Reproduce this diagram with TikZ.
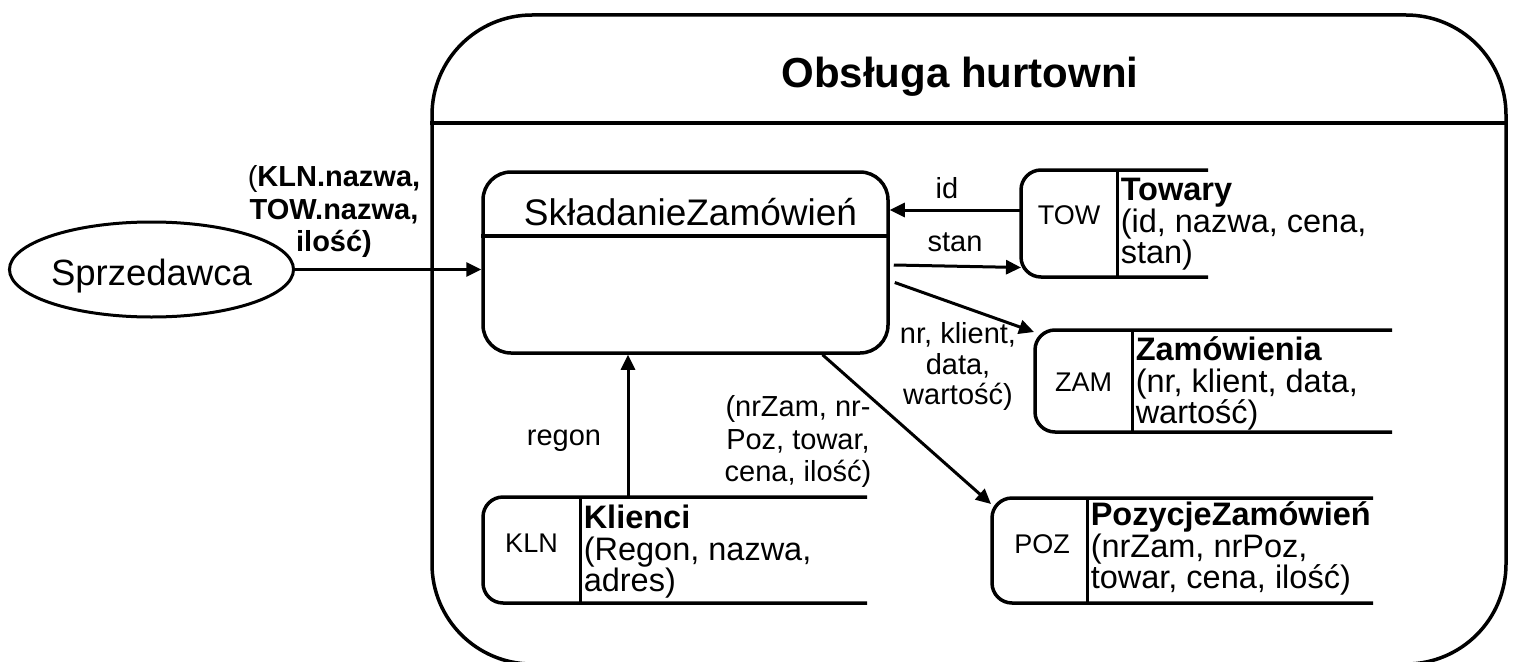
\documentclass[tikz,border=0pt]{standalone}
\usepackage{fontspec}
\setmainfont{Liberation Sans}
\usetikzlibrary{shapes.geometric,arrows.meta,calc}
\newcommand{\mystrut}{\rule{0pt}{0.8em}}
\begin{document}
\begin{tikzpicture}[x=1pt,y=-1pt, line width=3.5pt,
  lbl/.style={font=\fontsize{29}{32.5}\selectfont, inner sep=0pt, align=center, anchor=north},
  keytxt/.style={font=\fontsize{27}{30}\selectfont, inner sep=0pt, anchor=base},
  tbl/.style={font=\fontsize{32.5}{31.5}\selectfont, inner sep=0pt, align=left, anchor=north west},
  keybox/.style={inner sep=0pt, outer sep=0pt},
  flow/.style={-{Triangle[length=15pt,width=14pt]}, line width=3pt},
]
\useasboundingbox (0,0) rectangle (1514,661);

% outer frame
\node[draw, rounded corners=100pt, minimum width=1074pt, minimum height=649pt, inner sep=0pt] (frame) at (969,339.5) {};
\draw (frame.west |- 0,123) -- (frame.east |- 0,123);
\node[font=\bfseries\fontsize{42}{46}\selectfont, anchor=base] (title) at (960,87) {Obsługa hurtowni};

% actor
\node[draw, line width=3pt, ellipse, minimum width=283pt, minimum height=95pt, inner sep=0pt,
      font=\fontsize{36.5}{40}\selectfont, text height=31pt, text depth=0pt] (sprz) at (151.5,269.5) {Sprzedawca};

% process
\node[draw, rounded corners=28pt, minimum width=405pt, minimum height=181pt, inner sep=0pt] (sz) at (685.5,262.5) {};
\draw (sz.west |- 0,236) -- (sz.east |- 0,236);
\node[font=\fontsize{37}{40}\selectfont, anchor=base] (szt) at (690.5,225) {SkładanieZamówień};

% TOW
\node[keybox, minimum width=96pt, minimum height=107pt] (towk) at (1069,223.5) {};
\draw[rounded corners=20pt] ($(towk.north east)+(91,0)$) -- (towk.north west) -- (towk.south west) -- ($(towk.south east)+(91,0)$);
\draw[line width=3pt] (towk.north east) -- (towk.south east);
\node[keytxt] (towa) at (1069,224) {TOW};
\node[tbl] (towt) at (1119,173) {\mystrut\textbf{Towary}\\(id, nazwa, cena,\\stan)};

% ZAM
\node[keybox, minimum width=97pt, minimum height=102pt] (zamk) at (1083.5,381) {};
\draw[rounded corners=20pt] ($(zamk.north east)+(260,0)$) -- (zamk.north west) -- (zamk.south west) -- ($(zamk.south east)+(260,0)$);
\draw[line width=3pt] (zamk.north east) -- (zamk.south east);
\node[keytxt] (zama) at (1083.5,391) {ZAM};
\node[tbl] (zamt) at (1134,333) {\mystrut\textbf{Zamówienia}\\(nr, klient, data,\\wartość)};

% POZ
\node[keybox, minimum width=95pt, minimum height=105pt] (pozk) at (1039.5,550.5) {};
\draw[rounded corners=20pt] ($(pozk.north east)+(286,0)$) -- (pozk.north west) -- (pozk.south west) -- ($(pozk.south east)+(286,0)$);
\draw[line width=3pt] (pozk.north east) -- (pozk.south east);
\node[keytxt] (poza) at (1042,553) {POZ};
\node[tbl] (pozt) at (1089,498) {\mystrut\textbf{PozycjeZamówień}\\(nrZam, nrPoz,\\towar, cena, ilość)};

% KLN
\node[keybox, minimum width=97pt, minimum height=106pt] (klnk) at (531.5,550) {};
\draw[rounded corners=20pt] ($(klnk.north east)+(287,0)$) -- (klnk.north west) -- (klnk.south west) -- ($(klnk.south east)+(287,0)$);
\draw[line width=3pt] (klnk.north east) -- (klnk.south east);
\node[keytxt] (klna) at (531.5,552) {KLN};
\node[tbl] (klnt) at (582,501) {\mystrut\textbf{Klienci}\\(Regon, nazwa,\\adres)};

% flows
\draw[flow] (sprz.east) -- (sprz.east -| sz.west);
\node[lbl] (l1) at (334,161.8) {\mystrut(\textbf{KLN.nazwa,}\\\textbf{TOW.nazwa,}\\\textbf{ilość)}};

\draw[flow] ($(towk.west)+(0,-13.5)$) -- ($(sz.east)+(0,-52.5)$);
\node[font=\fontsize{29}{32}\selectfont, anchor=base, inner sep=0pt] (l2) at (947,198) {id};

\draw[flow] ($(sz.east)+(4,2.5)$) -- ($(towk.west)+(0,44)$);
\node[font=\fontsize{29}{32}\selectfont, anchor=base, inner sep=0pt] (l3) at (955,251) {stan};

\draw[flow] ($(sz.east)+(5,20)$) -- ($(zamk.north west)+(-1,2)$);
\node[lbl, font=\fontsize{29}{30.5}\selectfont] (l4) at (958,318.8) {\mystrut nr, klient,\\data,\\wartość)};

\draw[flow] ($(sz.south)+(137,0)$) -- ($(pozk.north west)+(-1,6)$);
\node[lbl] (l5) at (798,391.8) {\mystrut(nrZam, nr-\\Poz, towar,\\cena, ilość)};

\draw[flow] ($(klnk.north east)+(48,0)$) -- ($(sz.south)+(-57.5,0)$);
\node[font=\fontsize{29}{32}\selectfont, anchor=base, inner sep=0pt] (l6) at (564,445) {regon};
\end{tikzpicture}
\end{document}
